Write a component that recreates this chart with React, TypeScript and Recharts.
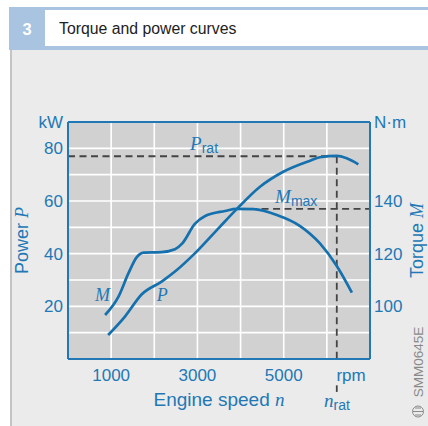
import { CartesianGrid, ComposedChart, Line, ReferenceDot, ReferenceLine, XAxis, YAxis } from "recharts";

// torque curve M (N·m) against engine speed
const torqueRpm = [860, 1170, 1400, 1590, 1750, 2170, 2480, 2650, 2940, 3180, 3640, 3910, 4300, 4840, 5380, 5840, 6230, 6580];
const torqueNm = [96.7, 103.7, 112.5, 118.6, 120.4, 120.6, 121.7, 123.9, 131.3, 134.3, 136.2, 137.0, 136.9, 134.7, 130.5, 123.9, 115.3, 105.2];

// power curve P (kW) against engine speed
const powerRpm = [930, 1320, 1710, 2170, 2480, 2940, 3520, 3910, 4450, 4990, 5610, 5840, 6230, 6460, 6730];
const powerKw = [9.1, 16.1, 24.6, 29.4, 33.2, 40.1, 50.2, 56.9, 65.4, 71.1, 75.3, 76.6, 77.1, 76.2, 73.9];

const xGridValues = [1000, 2000, 3000, 4000, 5000, 6000];
const xTickValues = [1000, 3000, 5000, 6560];
const xTickLabels = ["1000", "3000", "5000", "rpm"];

const powerGridValues = [10, 20, 30, 40, 50, 60, 70, 80];
const powerTickValues = [20, 40, 60, 80, 90];
const powerTickLabels = ["20", "40", "60", "80", "kW"];

const torqueTickValues = [100, 120, 140, 170];
const torqueTickLabels = ["100", "120", "140", "N·m"];

const ratedRpm = 6230;
const ratedPower = 77;
const maxTorque = 137;
const maxTorqueLineFrom = 4220;

const torqueData = torqueRpm.map((rpm, i) => ({ rpm, torque: torqueNm[i] }));
const powerData = powerRpm.map((rpm, i) => ({ rpm, power: powerKw[i] }));

const blue = "#2278b5";
const curveBlue = "#1570ae";
const dash = "#444";
const sans = "'Liberation Sans', Arial, sans-serif";
const serif = "'Liberation Serif', 'Times New Roman', serif";

const lookup = (values: number[], labels: string[]) => (v: number) => {
    const i = values.indexOf(v);
    return i >= 0 ? labels[i] : "";
};

const SubLabel = ({ cx, cy, main, sub }: any) => (
    <text x={cx} y={cy} fill={blue}>
        <tspan fontFamily={serif} fontStyle="italic" fontSize={19}>{main}</tspan>
        <tspan fontFamily={sans} fontSize={14} dy={3}>{sub}</tspan>
    </text>
);

const PlainLabel = ({ cx, cy, text }: any) => (
    <text x={cx} y={cy} fill={blue} fontFamily={serif} fontStyle="italic" fontSize={18}>{text}</text>
);

const PowerTitle = (props: any) => {
    const vb = props.viewBox;
    return (
        <text transform={`translate(${vb.x + 19.5}, ${vb.y + vb.height / 2}) rotate(-90)`} textAnchor="middle" fill={blue} fontSize={18} fontFamily={sans}>
            Power <tspan fontFamily={serif} fontStyle="italic">P</tspan>
        </text>
    );
};

const TorqueTitle = (props: any) => {
    const vb = props.viewBox;
    return (
        <text transform={`translate(${vb.x + 53}, ${vb.y + vb.height / 2}) rotate(-90)`} textAnchor="middle" fill={blue} fontSize={18} fontFamily={sans}>
            Torque <tspan fontFamily={serif} fontStyle="italic">M</tspan>
        </text>
    );
};

const SpeedTitle = (props: any) => {
    const vb = props.viewBox;
    return (
        <text x={vb.x + vb.width / 2} y={vb.y + 47} textAnchor="middle" fill={blue} fontSize={19} fontFamily={sans}>
            Engine speed <tspan fontFamily={serif} fontStyle="italic">n</tspan>
        </text>
    );
};

function Backdrop() {
    return (
        <svg width={428} height={426} style={{ position: "absolute", left: 0, top: 0 }}>
            <rect x={0} y={0} width={428} height={426} fill="#fff" />
            <rect x={10} y={50} width={418} height={376} fill="#ebebeb" />
            <rect x={10} y={50} width={2} height={376} fill="#c4c4c4" />
            <rect x={9} y={7} width={419} height={3} fill="#a8c4e0" />
            <rect x={9} y={46} width={419} height={4} fill="#a8c4e0" />
            <rect x={9} y={7} width={36} height={43} fill="#a8c4e0" />
            <text x={27} y={34.5} textAnchor="middle" fill="#fff" fontWeight="bold" fontSize={16.5} fontFamily={sans}>3</text>
            <text x={59} y={34.3} fill="#222" fontSize={15.8} fontFamily={sans}>Torque and power curves</text>
            <text transform="translate(423, 362) rotate(-90)" textAnchor="middle" fill="#8a8a8a" fontSize={13.5} fontFamily={sans}>SMM0645E</text>
            <g stroke="#8a8a8a" strokeWidth={1} fill="none">
                <circle cx={418} cy={411.5} r={5.5} />
                <line x1={413} y1={411.5} x2={423} y2={411.5} />
                <line x1={415} y1={408} x2={421} y2={408} />
                <line x1={415} y1={415} x2={421} y2={415} />
            </g>
        </svg>
    );
}

export default function App() {
    return (
        <div style={{ position: "absolute", left: 0, top: 0, width: 428, height: 426, fontFamily: sans }}>
            <Backdrop />
            <div style={{ position: "absolute", left: 0, top: 0 }}>
                <ComposedChart width={428} height={426} margin={{ top: 122, right: 0, bottom: 37, left: 8 }}>
                    <CartesianGrid
                        yAxisId="power"
                        fill="#d1d1d1"
                        stroke="#fff"
                        strokeWidth={1.6}
                        verticalValues={xGridValues}
                        horizontalValues={powerGridValues}
                    />
                    <XAxis
                        type="number"
                        dataKey="rpm"
                        domain={[0, 7000]}
                        ticks={xTickValues}
                        interval={0}
                        tickFormatter={lookup(xTickValues, xTickLabels)}
                        height={30}
                        tickLine={false}
                        tickSize={0}
                        tickMargin={10}
                        axisLine={{ stroke: blue, strokeWidth: 2 }}
                        tick={{ fill: blue, fontSize: 17, fontFamily: sans }}
                        label={SpeedTitle}
                    />
                    <YAxis
                        yAxisId="power"
                        orientation="left"
                        type="number"
                        domain={[0, 90]}
                        ticks={powerTickValues}
                        interval={0}
                        tickFormatter={lookup(powerTickValues, powerTickLabels)}
                        width={60}
                        tickLine={false}
                        tickSize={0}
                        tickMargin={5}
                        axisLine={{ stroke: blue, strokeWidth: 2 }}
                        tick={{ fill: blue, fontSize: 17, fontFamily: sans }}
                        label={PowerTitle}
                    />
                    <YAxis
                        yAxisId="torque"
                        orientation="right"
                        type="number"
                        domain={[80, 170]}
                        ticks={torqueTickValues}
                        interval={0}
                        tickFormatter={lookup(torqueTickValues, torqueTickLabels)}
                        width={58}
                        tickLine={false}
                        tickSize={0}
                        tickMargin={4}
                        axisLine={{ stroke: blue, strokeWidth: 2 }}
                        tick={{ fill: blue, fontSize: 17, fontFamily: sans, textAnchor: "start" }}
                        label={TorqueTitle}
                    />
                    <ReferenceLine yAxisId="power" y={90} stroke={blue} strokeWidth={2} />

                    <ReferenceLine yAxisId="power" segment={[{ x: 0, y: ratedPower }, { x: ratedRpm, y: ratedPower }]} stroke={dash} strokeWidth={1.8} strokeDasharray="7 4.5" />
                    <ReferenceLine yAxisId="power" segment={[{ x: ratedRpm, y: ratedPower }, { x: ratedRpm, y: 0 }]} stroke={dash} strokeWidth={1.8} strokeDasharray="7 4.5" />
                    <ReferenceLine yAxisId="power" ifOverflow="visible" segment={[{ x: ratedRpm, y: -10 }, { x: ratedRpm, y: -12.5 }]} stroke={dash} strokeWidth={1.8} />
                    <ReferenceLine yAxisId="torque" segment={[{ x: maxTorqueLineFrom, y: maxTorque }, { x: 7000, y: maxTorque }]} stroke={dash} strokeWidth={1.8} strokeDasharray="7 4.5" />

                    <Line yAxisId="torque" data={torqueData} dataKey="torque" type="monotone" stroke={curveBlue} strokeWidth={2.7} dot={false} activeDot={false} isAnimationActive={false} />
                    <Line yAxisId="power" data={powerData} dataKey="power" type="monotone" stroke={curveBlue} strokeWidth={2.7} dot={false} activeDot={false} isAnimationActive={false} />

                    <ReferenceDot yAxisId="power" x={2830} y={79.4} r={0} ifOverflow="visible" shape={(p: any) => <SubLabel cx={p.cx} cy={p.cy} main="P" sub="rat" />} />
                    <ReferenceDot yAxisId="torque" x={4800} y={139.2} r={0} ifOverflow="visible" shape={(p: any) => <SubLabel cx={p.cx} cy={p.cy} main="M" sub="max" />} />
                    <ReferenceDot yAxisId="power" x={5934} y={-18.2} r={0} ifOverflow="visible" shape={(p: any) => <SubLabel cx={p.cx} cy={p.cy} main="n" sub="rat" />} />
                    <ReferenceDot yAxisId="torque" x={626} y={102.2} r={0} ifOverflow="visible" shape={(p: any) => <PlainLabel cx={p.cx} cy={p.cy} text="M" />} />
                    <ReferenceDot yAxisId="power" x={2056} y={22.2} r={0} ifOverflow="visible" shape={(p: any) => <PlainLabel cx={p.cx} cy={p.cy} text="P" />} />
                </ComposedChart>
            </div>
        </div>
    );
}
